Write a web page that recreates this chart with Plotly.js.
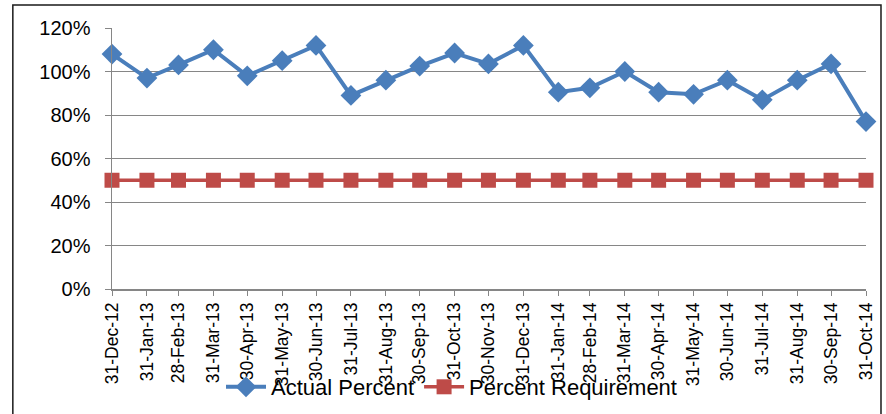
<!DOCTYPE html>
<html>
<head>
<meta charset="utf-8">
<script src="https://cdn.plot.ly/plotly-3.0.1.min.js"></script>
<style>html,body{margin:0;padding:0;background:#fff;}#chart{width:886px;height:414px;}</style>
</head>
<body>
<div id="chart"></div>
<script>
const dates = ["2012-12-31","2013-01-31","2013-02-28","2013-03-31","2013-04-30","2013-05-31","2013-06-30","2013-07-31","2013-08-31","2013-09-30","2013-10-31","2013-11-30","2013-12-31","2014-01-31","2014-02-28","2014-03-31","2014-04-30","2014-05-31","2014-06-30","2014-07-31","2014-08-31","2014-09-30","2014-10-31"];
const actualPercent = [1.08,0.97,1.03,1.10,0.98,1.05,1.12,0.89,0.96,1.025,1.085,1.035,1.12,0.905,0.925,1.00,0.905,0.895,0.96,0.87,0.96,1.035,0.77];
const percentRequirement = [0.5,0.5,0.5,0.5,0.5,0.5,0.5,0.5,0.5,0.5,0.5,0.5,0.5,0.5,0.5,0.5,0.5,0.5,0.5,0.5,0.5,0.5,0.5];
const yTicks = [0,0.2,0.4,0.6,0.8,1.0,1.2];

const W = 886, H = 414;
const L = 111.7, R = 866, T = 28, B = 289;
const pw = R - L, ph = B - T;
const px = v => (v - L) / pw;
const py = v => (B - v) / ph;

const traces = [
  {x: dates, y: actualPercent, name: "Actual Percent", type: "scatter", mode: "lines+markers",
   line: {color: "#4A7EBB", width: 4}, marker: {symbol: "diamond", size: 16, color: "#4A7EBB"}, cliponaxis: false},
  {x: dates, y: percentRequirement, name: "Percent Requirement", type: "scatter", mode: "lines+markers",
   line: {color: "#BE4B48", width: 3.5}, marker: {symbol: "square", size: 15, color: "#BE4B48"}, cliponaxis: false}
];

const layout = {
  width: W, height: H,
  margin: {l: L, r: W - R, t: T, b: H - B, pad: 0},
  paper_bgcolor: "#fff", plot_bgcolor: "#fff",
  font: {family: "Liberation Sans, Arial, sans-serif", color: "#000"},
  showlegend: true,
  legend: {orientation: "h", xref: "container", x: 221 / W, xanchor: "left", yref: "container", y: (H - 387) / H, yanchor: "middle",
           font: {size: 22, color: "#000"}, bgcolor: "rgba(0,0,0,0)", itemwidth: 40, traceorder: "normal"},
  xaxis: {type: "date", range: [dates[0], dates[dates.length-1]], tickvals: dates, tickformat: "%d-%b-%y",
          tickangle: -90, tickfont: {size: 17.5}, showgrid: false, showline: true, linecolor: "#868686", linewidth: 1.5,
          ticks: "outside", ticklen: 5, tickcolor: "#868686", zeroline: false, fixedrange: true, automargin: false},
  yaxis: {range: [0, 1.2], tickvals: yTicks, tickformat: ".0%", tickfont: {size: 20}, showgrid: true,
          gridcolor: "#868686", gridwidth: 1, showline: true, linecolor: "#868686", linewidth: 1.5,
          ticks: "outside", ticklen: 6, tickcolor: "#868686", ticklabelstandoff: 10, zeroline: false, fixedrange: true, automargin: false},
  shapes: [{type: "rect", xref: "paper", yref: "paper", x0: px(12.5), x1: px(881), y0: py(430), y1: py(5),
            line: {color: "#1a1a1a", width: 1.5}, fillcolor: "rgba(0,0,0,0)", layer: "below"}]
};
Plotly.newPlot("chart", traces, layout, {displayModeBar: false, staticPlot: true});
</script>
</body>
</html>
